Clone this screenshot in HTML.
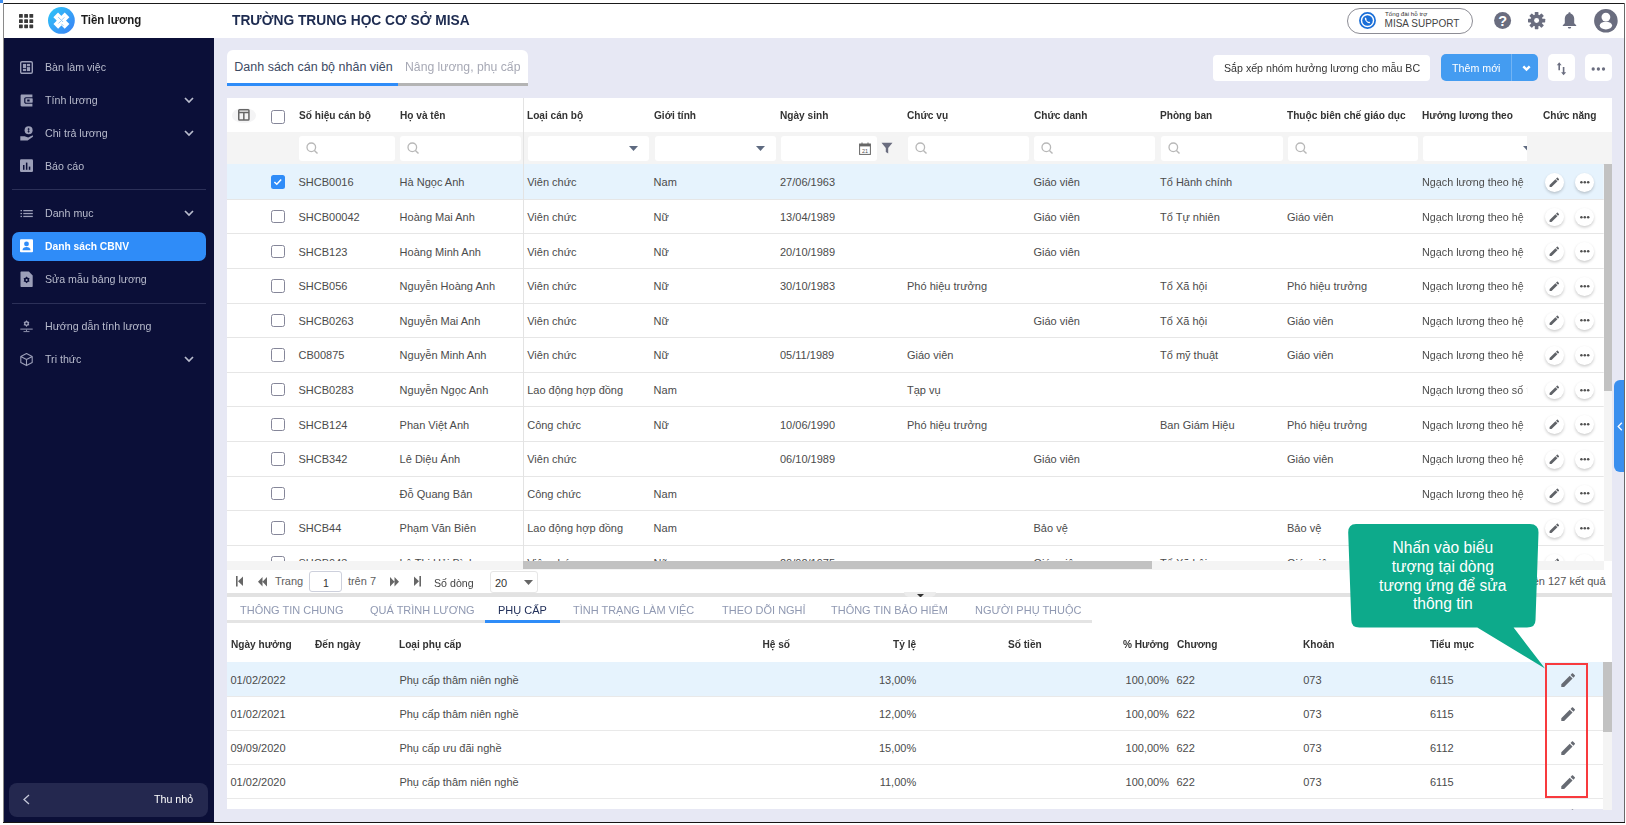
<!DOCTYPE html>
<html><head><meta charset="utf-8"><style>
*{box-sizing:border-box;margin:0;padding:0}
html,body{width:1626px;height:825px;overflow:hidden;background:#fff}
body{position:relative;font-family:"Liberation Sans",sans-serif}
div{position:absolute}
.t{white-space:nowrap}
svg{overflow:visible}
</style></head><body>
<div style="left:0px;top:0px;width:3px;height:3px;background:#3d8ef0"></div>
<div style="left:4px;top:4px;width:1620px;height:34px;background:#fff"></div>
<div style="left:4px;top:38px;width:210px;height:784px;background:#0b0f38"></div>
<div style="left:214px;top:38px;width:1410px;height:784px;background:#e7e8f4"></div>
<div style="left:3px;top:3px;width:1622px;height:1px;background:#1a1a1a"></div>
<div style="left:3px;top:3px;width:1px;height:820px;background:#8a8a8a"></div>
<div style="left:1624px;top:3px;width:1px;height:820px;background:#6a6a6a"></div>
<div style="left:3px;top:822px;width:1622px;height:1px;background:#151515"></div>
<svg style="position:absolute;left:19.3px;top:14px;" width="15" height="15" viewBox="0 0 15 15"><rect x="0.0" y="0.0" width="3.8" height="3.8" rx="0.6" fill="#3a3a3a"/><rect x="5.2" y="0.0" width="3.8" height="3.8" rx="0.6" fill="#3a3a3a"/><rect x="10.4" y="0.0" width="3.8" height="3.8" rx="0.6" fill="#3a3a3a"/><rect x="0.0" y="5.2" width="3.8" height="3.8" rx="0.6" fill="#3a3a3a"/><rect x="5.2" y="5.2" width="3.8" height="3.8" rx="0.6" fill="#3a3a3a"/><rect x="10.4" y="5.2" width="3.8" height="3.8" rx="0.6" fill="#3a3a3a"/><rect x="0.0" y="10.4" width="3.8" height="3.8" rx="0.6" fill="#3a3a3a"/><rect x="5.2" y="10.4" width="3.8" height="3.8" rx="0.6" fill="#3a3a3a"/><rect x="10.4" y="10.4" width="3.8" height="3.8" rx="0.6" fill="#3a3a3a"/></svg>
<svg style="position:absolute;left:48.2px;top:7.1px;" width="27" height="27" viewBox="0 0 27 27"><defs><linearGradient id="lg" x1="0" y1="0" x2="1" y2="1"><stop offset="0" stop-color="#2fc8f8"/><stop offset="1" stop-color="#3a7ef5"/></linearGradient></defs><circle cx="13.4" cy="13.4" r="13.4" fill="url(#lg)"/><g stroke="#fff" stroke-width="6.6" fill="none"><path d="M7.7 7.85 L13.5 13.65 L7.8 19.35"/><path d="M19.05 7.85 L13.3 13.6 L19.05 19.35"/></g><g stroke="#3c9ff5" stroke-width="0.7" fill="none" opacity="0.8"><path d="M10.2 10.1 L15.1 15"/><path d="M16.4 10.3 L13.8 12.9"/><path d="M10.4 16.5 L12.9 14"/><path d="M13.3 16.7 L15.5 18.9"/></g></svg>
<div class="t" style="left:80.5px;top:10.30px;line-height:20px;font-size:12.5px;color:#1c1c1c;font-weight:700;letter-spacing:0px;transform:scaleX(0.918);transform-origin:left center;">Tiền lương</div>
<div class="t" style="left:232px;top:10.30px;line-height:20px;font-size:15.2px;color:#1d2b50;font-weight:700;letter-spacing:0px;transform:scaleX(0.906);transform-origin:left center;">TRƯỜNG TRUNG HỌC CƠ SỞ MISA</div>
<div style="left:1347px;top:8px;width:126px;height:25.5px;border:1px solid #8d8d95;border-radius:13px;background:#fff"></div>
<svg style="position:absolute;left:1359px;top:12px;" width="17" height="17" viewBox="0 0 17 17"><circle cx="8.5" cy="8.5" r="7.6" fill="none" stroke="#1b6fd8" stroke-width="1.7"/><circle cx="8.5" cy="8.5" r="5.3" fill="#1b6fd8"/><path d="M6.2 5.6 C5.6 6.2 5.7 7.6 7.0 9.2 C8.4 10.9 10.0 11.6 10.9 10.9 L11.2 10.4 L10.0 9.5 L9.4 10.0 C8.6 9.6 7.6 8.6 7.3 7.8 L7.8 7.2 L7.0 5.9 Z" fill="#fff"/></svg>
<div class="t" style="left:1385px;top:9.90px;line-height:8px;font-size:6.2px;color:#333;font-weight:400;letter-spacing:0px;">Tổng đài hỗ trợ</div>
<div class="t" style="left:1384.6px;top:17.20px;line-height:14px;font-size:10px;color:#444;font-weight:400;letter-spacing:0px;">MISA SUPPORT</div>
<svg style="position:absolute;left:1494.4px;top:12px;" width="17.2" height="17.2" viewBox="0 0 17.2 17.2"><circle cx="8.6" cy="8.6" r="8.5" fill="#6a6d7f"/><text x="8.6" y="13.9" text-anchor="middle" font-family="Liberation Sans" font-weight="700" font-size="14.5" fill="#fff">?</text></svg>
<svg style="position:absolute;left:1527.9px;top:12px;" width="17.2" height="17.2" viewBox="0 0 18 18"><g fill="#6a6d7f" transform="translate(9,9)"><rect x="-1.9" y="-9" width="3.8" height="4.5" rx="0.6" transform="rotate(0)"/><rect x="-1.9" y="-9" width="3.8" height="4.5" rx="0.6" transform="rotate(45)"/><rect x="-1.9" y="-9" width="3.8" height="4.5" rx="0.6" transform="rotate(90)"/><rect x="-1.9" y="-9" width="3.8" height="4.5" rx="0.6" transform="rotate(135)"/><rect x="-1.9" y="-9" width="3.8" height="4.5" rx="0.6" transform="rotate(180)"/><rect x="-1.9" y="-9" width="3.8" height="4.5" rx="0.6" transform="rotate(225)"/><rect x="-1.9" y="-9" width="3.8" height="4.5" rx="0.6" transform="rotate(270)"/><rect x="-1.9" y="-9" width="3.8" height="4.5" rx="0.6" transform="rotate(315)"/><circle r="6.3"/><circle r="2.6" fill="#fff"/></g></svg>
<svg style="position:absolute;left:1562px;top:11px;" width="15" height="18" viewBox="0 0 15 18"><path d="M7.5 1.2 C8.2 1.2 8.6 1.7 8.6 2.4 C10.9 3.1 12.2 5.1 12.2 7.6 L12.2 12.2 L14.2 14.3 L14.2 15 L0.8 15 L0.8 14.3 L2.8 12.2 L2.8 7.6 C2.8 5.1 4.1 3.1 6.4 2.4 C6.4 1.7 6.8 1.2 7.5 1.2 Z" fill="#6a6d7f"/><path d="M5.9 16 L9.1 16 C9.1 16.9 8.4 17.6 7.5 17.6 C6.6 17.6 5.9 16.9 5.9 16 Z" fill="#6a6d7f"/></svg>
<svg style="position:absolute;left:1594.2px;top:9px;" width="23.8" height="23.6" viewBox="0 0 23.8 23.6"><circle cx="11.9" cy="11.8" r="11.8" fill="#6a6d7f"/><circle cx="11.9" cy="8.1" r="4.4" fill="#fff"/><ellipse cx="11.9" cy="16.6" rx="6.2" ry="3.9" fill="#fff"/></svg>
<svg style="position:absolute;left:19.5px;top:60.5px;" width="13" height="13" viewBox="0 0 13 13"><rect x="0.7" y="0.7" width="11.6" height="11.6" rx="1.3" fill="none" stroke="#9c9fb8" stroke-width="1.4"/><rect x="2.9" y="2.9" width="3.2" height="4.3" fill="#9c9fb8"/><rect x="6.9" y="2.9" width="3.2" height="2.4" fill="#9c9fb8"/><rect x="2.9" y="8" width="3.2" height="2.1" fill="#9c9fb8"/><rect x="6.9" y="6.1" width="3.2" height="4" fill="#9c9fb8"/></svg>
<div class="t" style="left:44.8px;top:57.00px;line-height:20px;font-size:11px;color:#b9bccd;font-weight:400;letter-spacing:0px;transform:scaleX(0.968);transform-origin:left center;">Bàn làm việc</div>
<svg style="position:absolute;left:19.5px;top:93.5px;" width="13" height="13" viewBox="0 0 13 13"><path d="M1.8 0.6 H12.4 V3.2 H6 C4.9 3.2 4.2 3.9 4.2 5 V8 C4.2 9.1 4.9 9.8 6 9.8 H12.4 V12.4 H1.8 C1.1 12.4 0.6 11.9 0.6 11.2 V1.8 C0.6 1.1 1.1 0.6 1.8 0.6 Z" fill="#9c9fb8"/><rect x="5.4" y="4.3" width="7.3" height="4.4" rx="0.6" fill="#9c9fb8"/><rect x="7.2" y="5.5" width="2.4" height="2" fill="#0b0f38"/></svg>
<div class="t" style="left:44.8px;top:90.00px;line-height:20px;font-size:11px;color:#b9bccd;font-weight:400;letter-spacing:0px;transform:scaleX(0.968);transform-origin:left center;">Tính lương</div>
<svg style="position:absolute;left:184px;top:97.4px;" width="10" height="6" viewBox="0 0 10 6"><path d="M1 1 L5 5 L9 1" fill="none" stroke="#b9bccd" stroke-width="1.7"/></svg>
<svg style="position:absolute;left:19.5px;top:126.5px;" width="13" height="13" viewBox="0 0 13 13"><circle cx="8.6" cy="3.3" r="4" fill="#9c9fb8"/><path d="M8.6 0.9 V5.7 M7.6 2.2 H9.6 M7.6 4.4 H9.6" stroke="#0b0f38" stroke-width="0.8"/><path d="M0.3 9.3 H4.6 L8.2 10.6 L12.8 8.3 L13 9.8 L7.6 13.4 H0.3 Z" fill="#9c9fb8"/></svg>
<div class="t" style="left:44.8px;top:123.00px;line-height:20px;font-size:11px;color:#b9bccd;font-weight:400;letter-spacing:0px;transform:scaleX(0.968);transform-origin:left center;">Chi trả lương</div>
<svg style="position:absolute;left:184px;top:130.4px;" width="10" height="6" viewBox="0 0 10 6"><path d="M1 1 L5 5 L9 1" fill="none" stroke="#b9bccd" stroke-width="1.7"/></svg>
<svg style="position:absolute;left:19.5px;top:159.0px;" width="13" height="13" viewBox="0 0 13 13"><rect x="0" y="0.3" width="13" height="12.6" rx="1.2" fill="#9c9fb8"/><rect x="3" y="6" width="1.5" height="4.8" fill="#0b0f38"/><rect x="5.9" y="3.6" width="1.5" height="7.2" fill="#0b0f38"/><rect x="8.8" y="7.6" width="1.5" height="3.2" fill="#0b0f38"/></svg>
<div class="t" style="left:44.8px;top:155.50px;line-height:20px;font-size:11px;color:#b9bccd;font-weight:400;letter-spacing:0px;transform:scaleX(0.968);transform-origin:left center;">Báo cáo</div>
<div style="left:12px;top:189px;width:194px;height:1px;background:#2c3058"></div>
<svg style="position:absolute;left:19.5px;top:206.5px;" width="13" height="13" viewBox="0 0 13 13"><rect x="0.5" y="3" width="1.5" height="1.3" fill="#9c9fb8"/><rect x="0.5" y="5.9" width="1.5" height="1.3" fill="#9c9fb8"/><rect x="0.5" y="8.8" width="1.5" height="1.3" fill="#9c9fb8"/><rect x="3.3" y="3" width="9.5" height="1.3" fill="#9c9fb8"/><rect x="3.3" y="5.9" width="9.5" height="1.3" fill="#9c9fb8"/><rect x="3.3" y="8.8" width="9.5" height="1.3" fill="#9c9fb8"/></svg>
<div class="t" style="left:44.8px;top:203.00px;line-height:20px;font-size:11px;color:#b9bccd;font-weight:400;letter-spacing:0px;transform:scaleX(0.968);transform-origin:left center;">Danh mục</div>
<svg style="position:absolute;left:184px;top:210.4px;" width="10" height="6" viewBox="0 0 10 6"><path d="M1 1 L5 5 L9 1" fill="none" stroke="#b9bccd" stroke-width="1.7"/></svg>
<div style="left:12px;top:232px;width:194px;height:29px;background:#2f8cf8;border-radius:7px"></div>
<svg style="position:absolute;left:19.5px;top:239.5px;" width="13" height="13" viewBox="0 0 13 13"><rect x="0" y="-0.7" width="13" height="13" rx="1" fill="#fff"/><circle cx="6.5" cy="3.9" r="2.4" fill="#2f8cf8"/><path d="M2.5 10.3 C2.5 7.9 4.4 7.1 6.5 7.1 C8.6 7.1 10.5 7.9 10.5 10.3 Z" fill="#2f8cf8"/></svg>
<div class="t" style="left:44.8px;top:236.00px;line-height:20px;font-size:11px;color:#fff;font-weight:700;letter-spacing:0px;transform:scaleX(0.935);transform-origin:left center;">Danh sách CBNV</div>
<svg style="position:absolute;left:19.5px;top:272.5px;" width="13" height="13" viewBox="0 0 13 13"><path d="M1.5 -1.4 H8.8 L12.7 2.6 V13 C12.7 13.6 12.3 14 11.7 14 H1.5 C0.9 14 0.5 13.6 0.5 13 V-0.4 C0.5 -1 0.9 -1.4 1.5 -1.4 Z" fill="#9c9fb8"/><polygon points="6.60,3.50 7.80,4.82 9.54,5.20 9.00,6.90 9.54,8.60 7.80,8.98 6.60,10.30 5.40,8.98 3.66,8.60 4.20,6.90 3.66,5.20 5.40,4.82" fill="#0b0f38"/><circle cx="6.6" cy="6.9" r="1" fill="#9c9fb8"/></svg>
<div class="t" style="left:44.8px;top:269.00px;line-height:20px;font-size:11px;color:#b9bccd;font-weight:400;letter-spacing:0px;transform:scaleX(0.968);transform-origin:left center;">Sửa mẫu bảng lương</div>
<div style="left:12px;top:303px;width:194px;height:1px;background:#2c3058"></div>
<svg style="position:absolute;left:19.5px;top:319.5px;" width="13" height="13" viewBox="0 0 13 13"><polygon points="6.50,0.30 7.65,1.61 9.36,1.95 8.80,3.60 9.36,5.25 7.65,5.59 6.50,6.90 5.35,5.59 3.64,5.25 4.20,3.60 3.64,1.95 5.35,1.61" fill="#9c9fb8"/><circle cx="6.5" cy="3.6" r="1.1" fill="#0b0f38"/><rect x="0.3" y="8.6" width="12.4" height="1" fill="#9c9fb8"/><path d="M6.5 9.6 V11.2 M3.5 11.6 H9.5" stroke="#9c9fb8" stroke-width="0.9"/></svg>
<div class="t" style="left:44.8px;top:316.00px;line-height:20px;font-size:11px;color:#b9bccd;font-weight:400;letter-spacing:0px;transform:scaleX(0.968);transform-origin:left center;">Hướng dẫn tính lương</div>
<svg style="position:absolute;left:19.5px;top:352.5px;" width="13" height="13" viewBox="0 0 13 13"><path d="M6.5 0.6 L12.2 3.6 V9.6 L6.5 12.6 L0.8 9.6 V3.6 Z M0.8 3.6 L6.5 6.6 L12.2 3.6 M6.5 6.6 V12.6" fill="none" stroke="#9c9fb8" stroke-width="1.1" stroke-linejoin="round"/></svg>
<div class="t" style="left:44.8px;top:349.00px;line-height:20px;font-size:11px;color:#b9bccd;font-weight:400;letter-spacing:0px;transform:scaleX(0.968);transform-origin:left center;">Tri thức</div>
<svg style="position:absolute;left:184px;top:356.4px;" width="10" height="6" viewBox="0 0 10 6"><path d="M1 1 L5 5 L9 1" fill="none" stroke="#b9bccd" stroke-width="1.7"/></svg>
<div style="left:9px;top:782.5px;width:199px;height:34px;background:#24284f;border-radius:8px"></div>
<svg style="position:absolute;left:22px;top:794px;" width="9" height="11" viewBox="0 0 9 11"><path d="M7 1 L2 5.5 L7 10" fill="none" stroke="#c4c7d8" stroke-width="1.3"/></svg>
<div class="t" style="right:1432.5px;top:789.30px;line-height:20px;font-size:11.5px;color:#fff;font-weight:400;letter-spacing:0px;text-align:right;transform:scaleX(0.93);transform-origin:right center;">Thu nhỏ</div>
<div style="left:227px;top:50px;width:301px;height:36px;background:#fff;border-radius:6px 6px 0 0"></div>
<div style="left:227px;top:83px;width:171px;height:3px;background:#2f8cf8"></div>
<div style="left:398px;top:83px;width:130px;height:3px;background:#b4b4b4"></div>
<div class="t" style="left:234.3px;top:56.50px;line-height:20px;font-size:12.5px;color:#3d4a63;font-weight:400;letter-spacing:0px;">Danh sách cán bộ nhân viên</div>
<div class="t" style="left:405.3px;top:56.50px;line-height:20px;font-size:12.5px;color:#a7a9b5;font-weight:400;letter-spacing:0px;transform:scaleX(0.978);transform-origin:left center;">Nâng lương, phụ cấp</div>
<div style="left:1212.8px;top:54.7px;width:217.4px;height:26.3px;background:#fff;border-radius:4px"></div>
<div class="t" style="left:1223.5px;top:58.00px;line-height:20px;font-size:11px;color:#333;font-weight:400;letter-spacing:0px;transform:scaleX(0.967);transform-origin:left center;">Sắp xếp nhóm hưởng lương cho mẫu BC</div>
<div style="left:1440.7px;top:54.4px;width:97.5px;height:27px;background:#449cf1;border-radius:5px"></div>
<div style="left:1511px;top:54.4px;width:1px;height:27px;background:#72b4f4"></div>
<div class="t" style="left:1452.2px;top:58.00px;line-height:20px;font-size:11px;color:#fff;font-weight:400;letter-spacing:0px;transform:scaleX(0.97);transform-origin:left center;">Thêm mới</div>
<svg style="position:absolute;left:1521.5px;top:65.2px;" width="9" height="7" viewBox="0 0 9 7"><path d="M1.3 1.3 L4.5 4.5 L7.7 1.3" fill="none" stroke="#fff" stroke-width="2.4"/></svg>
<div style="left:1547.8px;top:54.4px;width:27px;height:27px;background:#fff;border-radius:5px"></div>
<svg style="position:absolute;left:1556px;top:62px;" width="11" height="14" viewBox="0 0 11 14"><path d="M3.2 2 V8.2" stroke="#6a6d7f" stroke-width="1.6"/><path d="M0.8 3.2 L3.2 0.3 L5.6 3.2 Z" fill="#6a6d7f"/><path d="M7.6 5 V11.5" stroke="#6a6d7f" stroke-width="1.6"/><path d="M5.1 10.2 L7.6 13.3 L10.1 10.2 Z" fill="#6a6d7f"/></svg>
<div style="left:1585px;top:54.4px;width:27px;height:27px;background:#fff;border-radius:5px"></div>
<svg style="position:absolute;left:1591px;top:66.8px;" width="15" height="4" viewBox="0 0 15 4"><circle cx="2.2" cy="2" r="1.65" fill="#6a6d7f"/><circle cx="7.4" cy="2" r="1.65" fill="#6a6d7f"/><circle cx="12.5" cy="2" r="1.65" fill="#6a6d7f"/></svg>
<div style="left:227px;top:98px;width:1385px;height:472px;background:#fff"></div>
<div style="left:227px;top:132px;width:1385px;height:32.4px;background:#f4f4f4"></div>
<div style="left:227px;top:163.6px;width:1385px;height:1px;background:#e8e8e8"></div>
<div class="t" style="left:298.5px;top:105.00px;line-height:20px;font-size:11px;color:#333333;font-weight:700;letter-spacing:0px;transform:scaleX(0.92);transform-origin:left center;">Số hiệu cán bộ</div>
<div class="t" style="left:399.6px;top:105.00px;line-height:20px;font-size:11px;color:#333333;font-weight:700;letter-spacing:0px;transform:scaleX(0.92);transform-origin:left center;">Họ và tên</div>
<div class="t" style="left:527.2px;top:105.00px;line-height:20px;font-size:11px;color:#333333;font-weight:700;letter-spacing:0px;transform:scaleX(0.92);transform-origin:left center;">Loại cán bộ</div>
<div class="t" style="left:653.6px;top:105.00px;line-height:20px;font-size:11px;color:#333333;font-weight:700;letter-spacing:0px;transform:scaleX(0.92);transform-origin:left center;">Giới tính</div>
<div class="t" style="left:780px;top:105.00px;line-height:20px;font-size:11px;color:#333333;font-weight:700;letter-spacing:0px;transform:scaleX(0.92);transform-origin:left center;">Ngày sinh</div>
<div class="t" style="left:907px;top:105.00px;line-height:20px;font-size:11px;color:#333333;font-weight:700;letter-spacing:0px;transform:scaleX(0.92);transform-origin:left center;">Chức vụ</div>
<div class="t" style="left:1033.5px;top:105.00px;line-height:20px;font-size:11px;color:#333333;font-weight:700;letter-spacing:0px;transform:scaleX(0.92);transform-origin:left center;">Chức danh</div>
<div class="t" style="left:1160px;top:105.00px;line-height:20px;font-size:11px;color:#333333;font-weight:700;letter-spacing:0px;transform:scaleX(0.92);transform-origin:left center;">Phòng ban</div>
<div class="t" style="left:1287px;top:105.00px;line-height:20px;font-size:11px;color:#333333;font-weight:700;letter-spacing:0px;transform:scaleX(0.92);transform-origin:left center;">Thuộc biên chế giáo dục</div>
<div class="t" style="left:1422px;top:105.00px;line-height:20px;font-size:11px;color:#333333;font-weight:700;letter-spacing:0px;transform:scaleX(0.92);transform-origin:left center;">Hưởng lương theo</div>
<div class="t" style="left:1543.4px;top:105.00px;line-height:20px;font-size:11px;color:#333333;font-weight:700;letter-spacing:0px;transform:scaleX(0.92);transform-origin:left center;">Chức năng</div>
<div style="left:232.3px;top:107.5px;width:23.5px;height:15.4px;background:#f4f4f5;border-radius:50%"></div>
<svg style="position:absolute;left:238.1px;top:109.2px;" width="11.7" height="11.8" viewBox="0 0 11.7 11.8"><rect x="0.75" y="0.75" width="10.2" height="10.3" rx="0.8" fill="none" stroke="#666" stroke-width="1.5"/><path d="M0.8 3.6 H11 M5.85 3.6 V11" stroke="#666" stroke-width="1.5"/></svg>
<div style="left:271px;top:110.3px;width:13.6px;height:13.6px;border:1.7px solid #858699;border-radius:2.5px;background:#fff"></div>
<div style="left:299px;top:135.7px;width:96px;height:25.5px;background:#fff;border-radius:3px"></div>
<svg style="position:absolute;left:306px;top:142px;" width="12" height="12" viewBox="0 0 12 12"><circle cx="5.3" cy="5.3" r="4.3" fill="none" stroke="#b8b8b8" stroke-width="1.3"/><path d="M8.4 8.4 L11.5 11.5" stroke="#b8b8b8" stroke-width="1.4"/></svg>
<div style="left:400px;top:135.7px;width:121px;height:25.5px;background:#fff;border-radius:3px"></div>
<svg style="position:absolute;left:407px;top:142px;" width="12" height="12" viewBox="0 0 12 12"><circle cx="5.3" cy="5.3" r="4.3" fill="none" stroke="#b8b8b8" stroke-width="1.3"/><path d="M8.4 8.4 L11.5 11.5" stroke="#b8b8b8" stroke-width="1.4"/></svg>
<div style="left:528px;top:135.7px;width:121px;height:25.5px;background:#fff;border-radius:3px"></div>
<svg style="position:absolute;left:629px;top:146px;" width="9" height="5" viewBox="0 0 9 5"><path d="M0 0 H9 L4.5 5 Z" fill="#5e6a80"/></svg>
<div style="left:654.5px;top:135.7px;width:121.10000000000002px;height:25.5px;background:#fff;border-radius:3px"></div>
<svg style="position:absolute;left:755.6px;top:146px;" width="9" height="5" viewBox="0 0 9 5"><path d="M0 0 H9 L4.5 5 Z" fill="#5e6a80"/></svg>
<div style="left:781px;top:135.7px;width:96.20000000000005px;height:25.5px;background:#fff;border-radius:3px"></div>
<svg style="position:absolute;left:858.5px;top:141.5px;" width="12" height="13" viewBox="0 0 12 13"><rect x="0.6" y="2" width="10.8" height="10.4" fill="none" stroke="#666" stroke-width="1"/><rect x="0.6" y="2" width="10.8" height="2.4" fill="#666"/><path d="M3 0.5 V3 M9 0.5 V3" stroke="#666" stroke-width="1"/><text x="6" y="10.8" text-anchor="middle" font-size="5.5" font-family="Liberation Sans" fill="#555">21</text></svg>
<svg style="position:absolute;left:880.5px;top:142px;" width="12" height="12" viewBox="0 0 12 12"><path d="M0.5 0.8 H11.5 L7.2 6 V11.5 L4.8 10 V6 Z" fill="#6a6d7f"/></svg>
<div style="left:907.6px;top:135.7px;width:121.19999999999993px;height:25.5px;background:#fff;border-radius:3px"></div>
<svg style="position:absolute;left:914.6px;top:142px;" width="12" height="12" viewBox="0 0 12 12"><circle cx="5.3" cy="5.3" r="4.3" fill="none" stroke="#b8b8b8" stroke-width="1.3"/><path d="M8.4 8.4 L11.5 11.5" stroke="#b8b8b8" stroke-width="1.4"/></svg>
<div style="left:1034.2px;top:135.7px;width:121.09999999999991px;height:25.5px;background:#fff;border-radius:3px"></div>
<svg style="position:absolute;left:1041.2px;top:142px;" width="12" height="12" viewBox="0 0 12 12"><circle cx="5.3" cy="5.3" r="4.3" fill="none" stroke="#b8b8b8" stroke-width="1.3"/><path d="M8.4 8.4 L11.5 11.5" stroke="#b8b8b8" stroke-width="1.4"/></svg>
<div style="left:1161px;top:135.7px;width:121.5px;height:25.5px;background:#fff;border-radius:3px"></div>
<svg style="position:absolute;left:1168px;top:142px;" width="12" height="12" viewBox="0 0 12 12"><circle cx="5.3" cy="5.3" r="4.3" fill="none" stroke="#b8b8b8" stroke-width="1.3"/><path d="M8.4 8.4 L11.5 11.5" stroke="#b8b8b8" stroke-width="1.4"/></svg>
<div style="left:1287.7px;top:135.7px;width:130.0px;height:25.5px;background:#fff;border-radius:3px"></div>
<svg style="position:absolute;left:1294.7px;top:142px;" width="12" height="12" viewBox="0 0 12 12"><circle cx="5.3" cy="5.3" r="4.3" fill="none" stroke="#b8b8b8" stroke-width="1.3"/><path d="M8.4 8.4 L11.5 11.5" stroke="#b8b8b8" stroke-width="1.4"/></svg>
<div style="left:1423px;top:135.7px;width:104.3px;height:25.5px;background:#fff;border-radius:3px 0 0 3px"></div>
<svg style="position:absolute;left:1522.5px;top:146px;" width="9" height="5" viewBox="0 0 9 5"><path d="M0 0 H9 L4.5 5 Z" fill="#5e6a80"/></svg>
<div style="left:1527.3px;top:132px;width:76.4px;height:31.6px;background:#f4f4f4"></div>
<div style="left:0;top:0;width:1626px;height:825px;clip-path:inset(164px 22.299999999999955px 264px 227px)">
<div style="left:227px;top:164.4px;width:1377px;height:34.6px;background:#e6f3fd"></div>
<div style="left:227px;top:198.7px;width:1377px;height:1px;background:#e6e6e6"></div>
<div style="left:271px;top:175.3px;width:13.7px;height:13.7px;background:#2f8cf8;border-radius:2.5px"></div>
<svg style="position:absolute;left:271px;top:175.3px;" width="13.7" height="13.7" viewBox="0 0 13.7 13.7"><path d="M3.4 7 L5.8 9.3 L10.2 4.6" fill="none" stroke="#fff" stroke-width="1.5"/></svg>
<div class="t" style="left:298.5px;top:172.30px;line-height:20px;font-size:11px;color:#4b4b4b;font-weight:400;letter-spacing:0px;white-space:nowrap">SHCB0016</div>
<div class="t" style="left:399.6px;top:172.30px;line-height:20px;font-size:11px;color:#4b4b4b;font-weight:400;letter-spacing:0px;white-space:nowrap">Hà Ngọc Anh</div>
<div class="t" style="left:527.2px;top:172.30px;line-height:20px;font-size:11px;color:#4b4b4b;font-weight:400;letter-spacing:0px;white-space:nowrap">Viên chức</div>
<div class="t" style="left:653.6px;top:172.30px;line-height:20px;font-size:11px;color:#4b4b4b;font-weight:400;letter-spacing:0px;white-space:nowrap">Nam</div>
<div class="t" style="left:780px;top:172.30px;line-height:20px;font-size:11px;color:#4b4b4b;font-weight:400;letter-spacing:0px;white-space:nowrap">27/06/1963</div>
<div class="t" style="left:1033.5px;top:172.30px;line-height:20px;font-size:11px;color:#4b4b4b;font-weight:400;letter-spacing:0px;white-space:nowrap">Giáo viên</div>
<div class="t" style="left:1160px;top:172.30px;line-height:20px;font-size:11px;color:#4b4b4b;font-weight:400;letter-spacing:0px;white-space:nowrap">Tổ Hành chính</div>
<div class="t" style="left:1422px;top:172.30px;line-height:20px;font-size:11px;color:#4b4b4b;font-weight:400;letter-spacing:0px;transform:scaleX(0.98);transform-origin:left center;white-space:nowrap;width:108px;overflow:hidden;-webkit-mask-image:linear-gradient(to right,#000 94%,transparent 100%);mask-image:linear-gradient(to right,#000 94%,transparent 100%)">Ngạch lương theo hệ số</div>
<div style="left:1544.8px;top:173.10000000000002px;width:18.8px;height:18.8px;background:#fff;border-radius:50%;box-shadow:0 1.5px 3px rgba(0,0,0,.2)"></div>
<svg style="position:absolute;left:1548.1px;top:175.9px;" width="12.7" height="12.7" viewBox="0 0 24 24"><path d="M3 17.25V21h3.75L17.81 9.94l-3.75-3.75L3 17.25zM20.71 7.04c.39-.39.39-1.02 0-1.41l-2.34-2.34c-.39-.39-1.02-.39-1.41 0l-1.83 1.83 3.75 3.75 1.83-1.83z" fill="#606368"/></svg>
<div style="left:1575.2px;top:173.10000000000002px;width:18.8px;height:18.8px;background:#fff;border-radius:50%;box-shadow:0 1.5px 3px rgba(0,0,0,.2)"></div>
<svg style="position:absolute;left:1580px;top:181.0px;" width="9" height="2.6" viewBox="0 0 9 2.6"><circle cx="1.4" cy="1.3" r="1.25" fill="#505050"/><circle cx="4.8" cy="1.3" r="1.25" fill="#505050"/><circle cx="8.2" cy="1.3" r="1.25" fill="#505050"/></svg>
<div style="left:227px;top:233.29999999999998px;width:1377px;height:1px;background:#e6e6e6"></div>
<div style="left:271px;top:209.9px;width:13.6px;height:13.6px;border:1.7px solid #858699;border-radius:2.5px;background:#fff"></div>
<div class="t" style="left:298.5px;top:206.90px;line-height:20px;font-size:11px;color:#4b4b4b;font-weight:400;letter-spacing:0px;white-space:nowrap">SHCB00042</div>
<div class="t" style="left:399.6px;top:206.90px;line-height:20px;font-size:11px;color:#4b4b4b;font-weight:400;letter-spacing:0px;white-space:nowrap">Hoàng Mai Anh</div>
<div class="t" style="left:527.2px;top:206.90px;line-height:20px;font-size:11px;color:#4b4b4b;font-weight:400;letter-spacing:0px;white-space:nowrap">Viên chức</div>
<div class="t" style="left:653.6px;top:206.90px;line-height:20px;font-size:11px;color:#4b4b4b;font-weight:400;letter-spacing:0px;white-space:nowrap">Nữ</div>
<div class="t" style="left:780px;top:206.90px;line-height:20px;font-size:11px;color:#4b4b4b;font-weight:400;letter-spacing:0px;white-space:nowrap">13/04/1989</div>
<div class="t" style="left:1033.5px;top:206.90px;line-height:20px;font-size:11px;color:#4b4b4b;font-weight:400;letter-spacing:0px;white-space:nowrap">Giáo viên</div>
<div class="t" style="left:1160px;top:206.90px;line-height:20px;font-size:11px;color:#4b4b4b;font-weight:400;letter-spacing:0px;white-space:nowrap">Tổ Tự nhiên</div>
<div class="t" style="left:1287px;top:206.90px;line-height:20px;font-size:11px;color:#4b4b4b;font-weight:400;letter-spacing:0px;white-space:nowrap">Giáo viên</div>
<div class="t" style="left:1422px;top:206.90px;line-height:20px;font-size:11px;color:#4b4b4b;font-weight:400;letter-spacing:0px;transform:scaleX(0.98);transform-origin:left center;white-space:nowrap;width:108px;overflow:hidden;-webkit-mask-image:linear-gradient(to right,#000 94%,transparent 100%);mask-image:linear-gradient(to right,#000 94%,transparent 100%)">Ngạch lương theo hệ số</div>
<div style="left:1544.8px;top:207.70000000000002px;width:18.8px;height:18.8px;background:#fff;border-radius:50%;box-shadow:0 1.5px 3px rgba(0,0,0,.2)"></div>
<svg style="position:absolute;left:1548.1px;top:210.5px;" width="12.7" height="12.7" viewBox="0 0 24 24"><path d="M3 17.25V21h3.75L17.81 9.94l-3.75-3.75L3 17.25zM20.71 7.04c.39-.39.39-1.02 0-1.41l-2.34-2.34c-.39-.39-1.02-.39-1.41 0l-1.83 1.83 3.75 3.75 1.83-1.83z" fill="#606368"/></svg>
<div style="left:1575.2px;top:207.70000000000002px;width:18.8px;height:18.8px;background:#fff;border-radius:50%;box-shadow:0 1.5px 3px rgba(0,0,0,.2)"></div>
<svg style="position:absolute;left:1580px;top:215.6px;" width="9" height="2.6" viewBox="0 0 9 2.6"><circle cx="1.4" cy="1.3" r="1.25" fill="#505050"/><circle cx="4.8" cy="1.3" r="1.25" fill="#505050"/><circle cx="8.2" cy="1.3" r="1.25" fill="#505050"/></svg>
<div style="left:227px;top:267.90000000000003px;width:1377px;height:1px;background:#e6e6e6"></div>
<div style="left:271px;top:244.50000000000003px;width:13.6px;height:13.6px;border:1.7px solid #858699;border-radius:2.5px;background:#fff"></div>
<div class="t" style="left:298.5px;top:241.50px;line-height:20px;font-size:11px;color:#4b4b4b;font-weight:400;letter-spacing:0px;white-space:nowrap">SHCB123</div>
<div class="t" style="left:399.6px;top:241.50px;line-height:20px;font-size:11px;color:#4b4b4b;font-weight:400;letter-spacing:0px;white-space:nowrap">Hoàng Minh Anh</div>
<div class="t" style="left:527.2px;top:241.50px;line-height:20px;font-size:11px;color:#4b4b4b;font-weight:400;letter-spacing:0px;white-space:nowrap">Viên chức</div>
<div class="t" style="left:653.6px;top:241.50px;line-height:20px;font-size:11px;color:#4b4b4b;font-weight:400;letter-spacing:0px;white-space:nowrap">Nữ</div>
<div class="t" style="left:780px;top:241.50px;line-height:20px;font-size:11px;color:#4b4b4b;font-weight:400;letter-spacing:0px;white-space:nowrap">20/10/1989</div>
<div class="t" style="left:1033.5px;top:241.50px;line-height:20px;font-size:11px;color:#4b4b4b;font-weight:400;letter-spacing:0px;white-space:nowrap">Giáo viên</div>
<div class="t" style="left:1422px;top:241.50px;line-height:20px;font-size:11px;color:#4b4b4b;font-weight:400;letter-spacing:0px;transform:scaleX(0.98);transform-origin:left center;white-space:nowrap;width:108px;overflow:hidden;-webkit-mask-image:linear-gradient(to right,#000 94%,transparent 100%);mask-image:linear-gradient(to right,#000 94%,transparent 100%)">Ngạch lương theo hệ số</div>
<div style="left:1544.8px;top:242.30000000000004px;width:18.8px;height:18.8px;background:#fff;border-radius:50%;box-shadow:0 1.5px 3px rgba(0,0,0,.2)"></div>
<svg style="position:absolute;left:1548.1px;top:245.10000000000002px;" width="12.7" height="12.7" viewBox="0 0 24 24"><path d="M3 17.25V21h3.75L17.81 9.94l-3.75-3.75L3 17.25zM20.71 7.04c.39-.39.39-1.02 0-1.41l-2.34-2.34c-.39-.39-1.02-.39-1.41 0l-1.83 1.83 3.75 3.75 1.83-1.83z" fill="#606368"/></svg>
<div style="left:1575.2px;top:242.30000000000004px;width:18.8px;height:18.8px;background:#fff;border-radius:50%;box-shadow:0 1.5px 3px rgba(0,0,0,.2)"></div>
<svg style="position:absolute;left:1580px;top:250.20000000000002px;" width="9" height="2.6" viewBox="0 0 9 2.6"><circle cx="1.4" cy="1.3" r="1.25" fill="#505050"/><circle cx="4.8" cy="1.3" r="1.25" fill="#505050"/><circle cx="8.2" cy="1.3" r="1.25" fill="#505050"/></svg>
<div style="left:227px;top:302.50000000000006px;width:1377px;height:1px;background:#e6e6e6"></div>
<div style="left:271px;top:279.1000000000001px;width:13.6px;height:13.6px;border:1.7px solid #858699;border-radius:2.5px;background:#fff"></div>
<div class="t" style="left:298.5px;top:276.10px;line-height:20px;font-size:11px;color:#4b4b4b;font-weight:400;letter-spacing:0px;white-space:nowrap">SHCB056</div>
<div class="t" style="left:399.6px;top:276.10px;line-height:20px;font-size:11px;color:#4b4b4b;font-weight:400;letter-spacing:0px;white-space:nowrap">Nguyễn Hoàng Anh</div>
<div class="t" style="left:527.2px;top:276.10px;line-height:20px;font-size:11px;color:#4b4b4b;font-weight:400;letter-spacing:0px;white-space:nowrap">Viên chức</div>
<div class="t" style="left:653.6px;top:276.10px;line-height:20px;font-size:11px;color:#4b4b4b;font-weight:400;letter-spacing:0px;white-space:nowrap">Nữ</div>
<div class="t" style="left:780px;top:276.10px;line-height:20px;font-size:11px;color:#4b4b4b;font-weight:400;letter-spacing:0px;white-space:nowrap">30/10/1983</div>
<div class="t" style="left:907px;top:276.10px;line-height:20px;font-size:11px;color:#4b4b4b;font-weight:400;letter-spacing:0px;white-space:nowrap">Phó hiệu trưởng</div>
<div class="t" style="left:1160px;top:276.10px;line-height:20px;font-size:11px;color:#4b4b4b;font-weight:400;letter-spacing:0px;white-space:nowrap">Tổ Xã hội</div>
<div class="t" style="left:1287px;top:276.10px;line-height:20px;font-size:11px;color:#4b4b4b;font-weight:400;letter-spacing:0px;white-space:nowrap">Phó hiệu trưởng</div>
<div class="t" style="left:1422px;top:276.10px;line-height:20px;font-size:11px;color:#4b4b4b;font-weight:400;letter-spacing:0px;transform:scaleX(0.98);transform-origin:left center;white-space:nowrap;width:108px;overflow:hidden;-webkit-mask-image:linear-gradient(to right,#000 94%,transparent 100%);mask-image:linear-gradient(to right,#000 94%,transparent 100%)">Ngạch lương theo hệ số</div>
<div style="left:1544.8px;top:276.9000000000001px;width:18.8px;height:18.8px;background:#fff;border-radius:50%;box-shadow:0 1.5px 3px rgba(0,0,0,.2)"></div>
<svg style="position:absolute;left:1548.1px;top:279.7000000000001px;" width="12.7" height="12.7" viewBox="0 0 24 24"><path d="M3 17.25V21h3.75L17.81 9.94l-3.75-3.75L3 17.25zM20.71 7.04c.39-.39.39-1.02 0-1.41l-2.34-2.34c-.39-.39-1.02-.39-1.41 0l-1.83 1.83 3.75 3.75 1.83-1.83z" fill="#606368"/></svg>
<div style="left:1575.2px;top:276.9000000000001px;width:18.8px;height:18.8px;background:#fff;border-radius:50%;box-shadow:0 1.5px 3px rgba(0,0,0,.2)"></div>
<svg style="position:absolute;left:1580px;top:284.80000000000007px;" width="9" height="2.6" viewBox="0 0 9 2.6"><circle cx="1.4" cy="1.3" r="1.25" fill="#505050"/><circle cx="4.8" cy="1.3" r="1.25" fill="#505050"/><circle cx="8.2" cy="1.3" r="1.25" fill="#505050"/></svg>
<div style="left:227px;top:337.1px;width:1377px;height:1px;background:#e6e6e6"></div>
<div style="left:271px;top:313.70000000000005px;width:13.6px;height:13.6px;border:1.7px solid #858699;border-radius:2.5px;background:#fff"></div>
<div class="t" style="left:298.5px;top:310.70px;line-height:20px;font-size:11px;color:#4b4b4b;font-weight:400;letter-spacing:0px;white-space:nowrap">SHCB0263</div>
<div class="t" style="left:399.6px;top:310.70px;line-height:20px;font-size:11px;color:#4b4b4b;font-weight:400;letter-spacing:0px;white-space:nowrap">Nguyễn Mai Anh</div>
<div class="t" style="left:527.2px;top:310.70px;line-height:20px;font-size:11px;color:#4b4b4b;font-weight:400;letter-spacing:0px;white-space:nowrap">Viên chức</div>
<div class="t" style="left:653.6px;top:310.70px;line-height:20px;font-size:11px;color:#4b4b4b;font-weight:400;letter-spacing:0px;white-space:nowrap">Nữ</div>
<div class="t" style="left:1033.5px;top:310.70px;line-height:20px;font-size:11px;color:#4b4b4b;font-weight:400;letter-spacing:0px;white-space:nowrap">Giáo viên</div>
<div class="t" style="left:1160px;top:310.70px;line-height:20px;font-size:11px;color:#4b4b4b;font-weight:400;letter-spacing:0px;white-space:nowrap">Tổ Xã hội</div>
<div class="t" style="left:1287px;top:310.70px;line-height:20px;font-size:11px;color:#4b4b4b;font-weight:400;letter-spacing:0px;white-space:nowrap">Giáo viên</div>
<div class="t" style="left:1422px;top:310.70px;line-height:20px;font-size:11px;color:#4b4b4b;font-weight:400;letter-spacing:0px;transform:scaleX(0.98);transform-origin:left center;white-space:nowrap;width:108px;overflow:hidden;-webkit-mask-image:linear-gradient(to right,#000 94%,transparent 100%);mask-image:linear-gradient(to right,#000 94%,transparent 100%)">Ngạch lương theo hệ số</div>
<div style="left:1544.8px;top:311.50000000000006px;width:18.8px;height:18.8px;background:#fff;border-radius:50%;box-shadow:0 1.5px 3px rgba(0,0,0,.2)"></div>
<svg style="position:absolute;left:1548.1px;top:314.30000000000007px;" width="12.7" height="12.7" viewBox="0 0 24 24"><path d="M3 17.25V21h3.75L17.81 9.94l-3.75-3.75L3 17.25zM20.71 7.04c.39-.39.39-1.02 0-1.41l-2.34-2.34c-.39-.39-1.02-.39-1.41 0l-1.83 1.83 3.75 3.75 1.83-1.83z" fill="#606368"/></svg>
<div style="left:1575.2px;top:311.50000000000006px;width:18.8px;height:18.8px;background:#fff;border-radius:50%;box-shadow:0 1.5px 3px rgba(0,0,0,.2)"></div>
<svg style="position:absolute;left:1580px;top:319.40000000000003px;" width="9" height="2.6" viewBox="0 0 9 2.6"><circle cx="1.4" cy="1.3" r="1.25" fill="#505050"/><circle cx="4.8" cy="1.3" r="1.25" fill="#505050"/><circle cx="8.2" cy="1.3" r="1.25" fill="#505050"/></svg>
<div style="left:227px;top:371.7px;width:1377px;height:1px;background:#e6e6e6"></div>
<div style="left:271px;top:348.3px;width:13.6px;height:13.6px;border:1.7px solid #858699;border-radius:2.5px;background:#fff"></div>
<div class="t" style="left:298.5px;top:345.30px;line-height:20px;font-size:11px;color:#4b4b4b;font-weight:400;letter-spacing:0px;white-space:nowrap">CB00875</div>
<div class="t" style="left:399.6px;top:345.30px;line-height:20px;font-size:11px;color:#4b4b4b;font-weight:400;letter-spacing:0px;white-space:nowrap">Nguyễn Minh Anh</div>
<div class="t" style="left:527.2px;top:345.30px;line-height:20px;font-size:11px;color:#4b4b4b;font-weight:400;letter-spacing:0px;white-space:nowrap">Viên chức</div>
<div class="t" style="left:653.6px;top:345.30px;line-height:20px;font-size:11px;color:#4b4b4b;font-weight:400;letter-spacing:0px;white-space:nowrap">Nữ</div>
<div class="t" style="left:780px;top:345.30px;line-height:20px;font-size:11px;color:#4b4b4b;font-weight:400;letter-spacing:0px;white-space:nowrap">05/11/1989</div>
<div class="t" style="left:907px;top:345.30px;line-height:20px;font-size:11px;color:#4b4b4b;font-weight:400;letter-spacing:0px;white-space:nowrap">Giáo viên</div>
<div class="t" style="left:1160px;top:345.30px;line-height:20px;font-size:11px;color:#4b4b4b;font-weight:400;letter-spacing:0px;white-space:nowrap">Tổ mỹ thuật</div>
<div class="t" style="left:1287px;top:345.30px;line-height:20px;font-size:11px;color:#4b4b4b;font-weight:400;letter-spacing:0px;white-space:nowrap">Giáo viên</div>
<div class="t" style="left:1422px;top:345.30px;line-height:20px;font-size:11px;color:#4b4b4b;font-weight:400;letter-spacing:0px;transform:scaleX(0.98);transform-origin:left center;white-space:nowrap;width:108px;overflow:hidden;-webkit-mask-image:linear-gradient(to right,#000 94%,transparent 100%);mask-image:linear-gradient(to right,#000 94%,transparent 100%)">Ngạch lương theo hệ số</div>
<div style="left:1544.8px;top:346.1px;width:18.8px;height:18.8px;background:#fff;border-radius:50%;box-shadow:0 1.5px 3px rgba(0,0,0,.2)"></div>
<svg style="position:absolute;left:1548.1px;top:348.90000000000003px;" width="12.7" height="12.7" viewBox="0 0 24 24"><path d="M3 17.25V21h3.75L17.81 9.94l-3.75-3.75L3 17.25zM20.71 7.04c.39-.39.39-1.02 0-1.41l-2.34-2.34c-.39-.39-1.02-.39-1.41 0l-1.83 1.83 3.75 3.75 1.83-1.83z" fill="#606368"/></svg>
<div style="left:1575.2px;top:346.1px;width:18.8px;height:18.8px;background:#fff;border-radius:50%;box-shadow:0 1.5px 3px rgba(0,0,0,.2)"></div>
<svg style="position:absolute;left:1580px;top:354.0px;" width="9" height="2.6" viewBox="0 0 9 2.6"><circle cx="1.4" cy="1.3" r="1.25" fill="#505050"/><circle cx="4.8" cy="1.3" r="1.25" fill="#505050"/><circle cx="8.2" cy="1.3" r="1.25" fill="#505050"/></svg>
<div style="left:227px;top:406.3px;width:1377px;height:1px;background:#e6e6e6"></div>
<div style="left:271px;top:382.90000000000003px;width:13.6px;height:13.6px;border:1.7px solid #858699;border-radius:2.5px;background:#fff"></div>
<div class="t" style="left:298.5px;top:379.90px;line-height:20px;font-size:11px;color:#4b4b4b;font-weight:400;letter-spacing:0px;white-space:nowrap">SHCB0283</div>
<div class="t" style="left:399.6px;top:379.90px;line-height:20px;font-size:11px;color:#4b4b4b;font-weight:400;letter-spacing:0px;white-space:nowrap">Nguyễn Ngọc Anh</div>
<div class="t" style="left:527.2px;top:379.90px;line-height:20px;font-size:11px;color:#4b4b4b;font-weight:400;letter-spacing:0px;white-space:nowrap">Lao động hợp đồng</div>
<div class="t" style="left:653.6px;top:379.90px;line-height:20px;font-size:11px;color:#4b4b4b;font-weight:400;letter-spacing:0px;white-space:nowrap">Nam</div>
<div class="t" style="left:907px;top:379.90px;line-height:20px;font-size:11px;color:#4b4b4b;font-weight:400;letter-spacing:0px;white-space:nowrap">Tạp vụ</div>
<div class="t" style="left:1422px;top:379.90px;line-height:20px;font-size:11px;color:#4b4b4b;font-weight:400;letter-spacing:0px;transform:scaleX(0.98);transform-origin:left center;white-space:nowrap;width:108px;overflow:hidden;-webkit-mask-image:linear-gradient(to right,#000 94%,transparent 100%);mask-image:linear-gradient(to right,#000 94%,transparent 100%)">Ngạch lương theo số tiền</div>
<div style="left:1544.8px;top:380.70000000000005px;width:18.8px;height:18.8px;background:#fff;border-radius:50%;box-shadow:0 1.5px 3px rgba(0,0,0,.2)"></div>
<svg style="position:absolute;left:1548.1px;top:383.50000000000006px;" width="12.7" height="12.7" viewBox="0 0 24 24"><path d="M3 17.25V21h3.75L17.81 9.94l-3.75-3.75L3 17.25zM20.71 7.04c.39-.39.39-1.02 0-1.41l-2.34-2.34c-.39-.39-1.02-.39-1.41 0l-1.83 1.83 3.75 3.75 1.83-1.83z" fill="#606368"/></svg>
<div style="left:1575.2px;top:380.70000000000005px;width:18.8px;height:18.8px;background:#fff;border-radius:50%;box-shadow:0 1.5px 3px rgba(0,0,0,.2)"></div>
<svg style="position:absolute;left:1580px;top:388.6px;" width="9" height="2.6" viewBox="0 0 9 2.6"><circle cx="1.4" cy="1.3" r="1.25" fill="#505050"/><circle cx="4.8" cy="1.3" r="1.25" fill="#505050"/><circle cx="8.2" cy="1.3" r="1.25" fill="#505050"/></svg>
<div style="left:227px;top:440.90000000000003px;width:1377px;height:1px;background:#e6e6e6"></div>
<div style="left:271px;top:417.50000000000006px;width:13.6px;height:13.6px;border:1.7px solid #858699;border-radius:2.5px;background:#fff"></div>
<div class="t" style="left:298.5px;top:414.50px;line-height:20px;font-size:11px;color:#4b4b4b;font-weight:400;letter-spacing:0px;white-space:nowrap">SHCB124</div>
<div class="t" style="left:399.6px;top:414.50px;line-height:20px;font-size:11px;color:#4b4b4b;font-weight:400;letter-spacing:0px;white-space:nowrap">Phan Việt Anh</div>
<div class="t" style="left:527.2px;top:414.50px;line-height:20px;font-size:11px;color:#4b4b4b;font-weight:400;letter-spacing:0px;white-space:nowrap">Công chức</div>
<div class="t" style="left:653.6px;top:414.50px;line-height:20px;font-size:11px;color:#4b4b4b;font-weight:400;letter-spacing:0px;white-space:nowrap">Nữ</div>
<div class="t" style="left:780px;top:414.50px;line-height:20px;font-size:11px;color:#4b4b4b;font-weight:400;letter-spacing:0px;white-space:nowrap">10/06/1990</div>
<div class="t" style="left:907px;top:414.50px;line-height:20px;font-size:11px;color:#4b4b4b;font-weight:400;letter-spacing:0px;white-space:nowrap">Phó hiệu trưởng</div>
<div class="t" style="left:1160px;top:414.50px;line-height:20px;font-size:11px;color:#4b4b4b;font-weight:400;letter-spacing:0px;white-space:nowrap">Ban Giám Hiệu</div>
<div class="t" style="left:1287px;top:414.50px;line-height:20px;font-size:11px;color:#4b4b4b;font-weight:400;letter-spacing:0px;white-space:nowrap">Phó hiệu trưởng</div>
<div class="t" style="left:1422px;top:414.50px;line-height:20px;font-size:11px;color:#4b4b4b;font-weight:400;letter-spacing:0px;transform:scaleX(0.98);transform-origin:left center;white-space:nowrap;width:108px;overflow:hidden;-webkit-mask-image:linear-gradient(to right,#000 94%,transparent 100%);mask-image:linear-gradient(to right,#000 94%,transparent 100%)">Ngạch lương theo hệ số</div>
<div style="left:1544.8px;top:415.30000000000007px;width:18.8px;height:18.8px;background:#fff;border-radius:50%;box-shadow:0 1.5px 3px rgba(0,0,0,.2)"></div>
<svg style="position:absolute;left:1548.1px;top:418.1000000000001px;" width="12.7" height="12.7" viewBox="0 0 24 24"><path d="M3 17.25V21h3.75L17.81 9.94l-3.75-3.75L3 17.25zM20.71 7.04c.39-.39.39-1.02 0-1.41l-2.34-2.34c-.39-.39-1.02-.39-1.41 0l-1.83 1.83 3.75 3.75 1.83-1.83z" fill="#606368"/></svg>
<div style="left:1575.2px;top:415.30000000000007px;width:18.8px;height:18.8px;background:#fff;border-radius:50%;box-shadow:0 1.5px 3px rgba(0,0,0,.2)"></div>
<svg style="position:absolute;left:1580px;top:423.20000000000005px;" width="9" height="2.6" viewBox="0 0 9 2.6"><circle cx="1.4" cy="1.3" r="1.25" fill="#505050"/><circle cx="4.8" cy="1.3" r="1.25" fill="#505050"/><circle cx="8.2" cy="1.3" r="1.25" fill="#505050"/></svg>
<div style="left:227px;top:475.50000000000006px;width:1377px;height:1px;background:#e6e6e6"></div>
<div style="left:271px;top:452.1000000000001px;width:13.6px;height:13.6px;border:1.7px solid #858699;border-radius:2.5px;background:#fff"></div>
<div class="t" style="left:298.5px;top:449.10px;line-height:20px;font-size:11px;color:#4b4b4b;font-weight:400;letter-spacing:0px;white-space:nowrap">SHCB342</div>
<div class="t" style="left:399.6px;top:449.10px;line-height:20px;font-size:11px;color:#4b4b4b;font-weight:400;letter-spacing:0px;white-space:nowrap">Lê Diệu Ánh</div>
<div class="t" style="left:527.2px;top:449.10px;line-height:20px;font-size:11px;color:#4b4b4b;font-weight:400;letter-spacing:0px;white-space:nowrap">Viên chức</div>
<div class="t" style="left:780px;top:449.10px;line-height:20px;font-size:11px;color:#4b4b4b;font-weight:400;letter-spacing:0px;white-space:nowrap">06/10/1989</div>
<div class="t" style="left:1033.5px;top:449.10px;line-height:20px;font-size:11px;color:#4b4b4b;font-weight:400;letter-spacing:0px;white-space:nowrap">Giáo viên</div>
<div class="t" style="left:1287px;top:449.10px;line-height:20px;font-size:11px;color:#4b4b4b;font-weight:400;letter-spacing:0px;white-space:nowrap">Giáo viên</div>
<div class="t" style="left:1422px;top:449.10px;line-height:20px;font-size:11px;color:#4b4b4b;font-weight:400;letter-spacing:0px;transform:scaleX(0.98);transform-origin:left center;white-space:nowrap;width:108px;overflow:hidden;-webkit-mask-image:linear-gradient(to right,#000 94%,transparent 100%);mask-image:linear-gradient(to right,#000 94%,transparent 100%)">Ngạch lương theo hệ số</div>
<div style="left:1544.8px;top:449.9000000000001px;width:18.8px;height:18.8px;background:#fff;border-radius:50%;box-shadow:0 1.5px 3px rgba(0,0,0,.2)"></div>
<svg style="position:absolute;left:1548.1px;top:452.7000000000001px;" width="12.7" height="12.7" viewBox="0 0 24 24"><path d="M3 17.25V21h3.75L17.81 9.94l-3.75-3.75L3 17.25zM20.71 7.04c.39-.39.39-1.02 0-1.41l-2.34-2.34c-.39-.39-1.02-.39-1.41 0l-1.83 1.83 3.75 3.75 1.83-1.83z" fill="#606368"/></svg>
<div style="left:1575.2px;top:449.9000000000001px;width:18.8px;height:18.8px;background:#fff;border-radius:50%;box-shadow:0 1.5px 3px rgba(0,0,0,.2)"></div>
<svg style="position:absolute;left:1580px;top:457.80000000000007px;" width="9" height="2.6" viewBox="0 0 9 2.6"><circle cx="1.4" cy="1.3" r="1.25" fill="#505050"/><circle cx="4.8" cy="1.3" r="1.25" fill="#505050"/><circle cx="8.2" cy="1.3" r="1.25" fill="#505050"/></svg>
<div style="left:227px;top:510.1000000000001px;width:1377px;height:1px;background:#e6e6e6"></div>
<div style="left:271px;top:486.7000000000001px;width:13.6px;height:13.6px;border:1.7px solid #858699;border-radius:2.5px;background:#fff"></div>
<div class="t" style="left:399.6px;top:483.70px;line-height:20px;font-size:11px;color:#4b4b4b;font-weight:400;letter-spacing:0px;white-space:nowrap">Đỗ Quang Bản</div>
<div class="t" style="left:527.2px;top:483.70px;line-height:20px;font-size:11px;color:#4b4b4b;font-weight:400;letter-spacing:0px;white-space:nowrap">Công chức</div>
<div class="t" style="left:653.6px;top:483.70px;line-height:20px;font-size:11px;color:#4b4b4b;font-weight:400;letter-spacing:0px;white-space:nowrap">Nam</div>
<div class="t" style="left:1422px;top:483.70px;line-height:20px;font-size:11px;color:#4b4b4b;font-weight:400;letter-spacing:0px;transform:scaleX(0.98);transform-origin:left center;white-space:nowrap;width:108px;overflow:hidden;-webkit-mask-image:linear-gradient(to right,#000 94%,transparent 100%);mask-image:linear-gradient(to right,#000 94%,transparent 100%)">Ngạch lương theo hệ số</div>
<div style="left:1544.8px;top:484.5000000000001px;width:18.8px;height:18.8px;background:#fff;border-radius:50%;box-shadow:0 1.5px 3px rgba(0,0,0,.2)"></div>
<svg style="position:absolute;left:1548.1px;top:487.3000000000001px;" width="12.7" height="12.7" viewBox="0 0 24 24"><path d="M3 17.25V21h3.75L17.81 9.94l-3.75-3.75L3 17.25zM20.71 7.04c.39-.39.39-1.02 0-1.41l-2.34-2.34c-.39-.39-1.02-.39-1.41 0l-1.83 1.83 3.75 3.75 1.83-1.83z" fill="#606368"/></svg>
<div style="left:1575.2px;top:484.5000000000001px;width:18.8px;height:18.8px;background:#fff;border-radius:50%;box-shadow:0 1.5px 3px rgba(0,0,0,.2)"></div>
<svg style="position:absolute;left:1580px;top:492.4000000000001px;" width="9" height="2.6" viewBox="0 0 9 2.6"><circle cx="1.4" cy="1.3" r="1.25" fill="#505050"/><circle cx="4.8" cy="1.3" r="1.25" fill="#505050"/><circle cx="8.2" cy="1.3" r="1.25" fill="#505050"/></svg>
<div style="left:227px;top:544.7px;width:1377px;height:1px;background:#e6e6e6"></div>
<div style="left:271px;top:521.3px;width:13.6px;height:13.6px;border:1.7px solid #858699;border-radius:2.5px;background:#fff"></div>
<div class="t" style="left:298.5px;top:518.30px;line-height:20px;font-size:11px;color:#4b4b4b;font-weight:400;letter-spacing:0px;white-space:nowrap">SHCB44</div>
<div class="t" style="left:399.6px;top:518.30px;line-height:20px;font-size:11px;color:#4b4b4b;font-weight:400;letter-spacing:0px;white-space:nowrap">Phạm Văn Biên</div>
<div class="t" style="left:527.2px;top:518.30px;line-height:20px;font-size:11px;color:#4b4b4b;font-weight:400;letter-spacing:0px;white-space:nowrap">Lao động hợp đồng</div>
<div class="t" style="left:653.6px;top:518.30px;line-height:20px;font-size:11px;color:#4b4b4b;font-weight:400;letter-spacing:0px;white-space:nowrap">Nam</div>
<div class="t" style="left:1033.5px;top:518.30px;line-height:20px;font-size:11px;color:#4b4b4b;font-weight:400;letter-spacing:0px;white-space:nowrap">Bảo vệ</div>
<div class="t" style="left:1287px;top:518.30px;line-height:20px;font-size:11px;color:#4b4b4b;font-weight:400;letter-spacing:0px;white-space:nowrap">Bảo vệ</div>
<div class="t" style="left:1422px;top:518.30px;line-height:20px;font-size:11px;color:#4b4b4b;font-weight:400;letter-spacing:0px;transform:scaleX(0.98);transform-origin:left center;white-space:nowrap;width:108px;overflow:hidden;-webkit-mask-image:linear-gradient(to right,#000 94%,transparent 100%);mask-image:linear-gradient(to right,#000 94%,transparent 100%)">Ngạch lương theo hệ số</div>
<div style="left:1544.8px;top:519.0999999999999px;width:18.8px;height:18.8px;background:#fff;border-radius:50%;box-shadow:0 1.5px 3px rgba(0,0,0,.2)"></div>
<svg style="position:absolute;left:1548.1px;top:521.9px;" width="12.7" height="12.7" viewBox="0 0 24 24"><path d="M3 17.25V21h3.75L17.81 9.94l-3.75-3.75L3 17.25zM20.71 7.04c.39-.39.39-1.02 0-1.41l-2.34-2.34c-.39-.39-1.02-.39-1.41 0l-1.83 1.83 3.75 3.75 1.83-1.83z" fill="#606368"/></svg>
<div style="left:1575.2px;top:519.0999999999999px;width:18.8px;height:18.8px;background:#fff;border-radius:50%;box-shadow:0 1.5px 3px rgba(0,0,0,.2)"></div>
<svg style="position:absolute;left:1580px;top:527.0px;" width="9" height="2.6" viewBox="0 0 9 2.6"><circle cx="1.4" cy="1.3" r="1.25" fill="#505050"/><circle cx="4.8" cy="1.3" r="1.25" fill="#505050"/><circle cx="8.2" cy="1.3" r="1.25" fill="#505050"/></svg>
<div style="left:227px;top:579.3000000000001px;width:1377px;height:1px;background:#e6e6e6"></div>
<div style="left:271px;top:555.9px;width:13.6px;height:13.6px;border:1.7px solid #858699;border-radius:2.5px;background:#fff"></div>
<div class="t" style="left:298.5px;top:552.90px;line-height:20px;font-size:11px;color:#4b4b4b;font-weight:400;letter-spacing:0px;white-space:nowrap">SHCB043</div>
<div class="t" style="left:399.6px;top:552.90px;line-height:20px;font-size:11px;color:#4b4b4b;font-weight:400;letter-spacing:0px;white-space:nowrap">Lê Thị Hải Bình</div>
<div class="t" style="left:527.2px;top:552.90px;line-height:20px;font-size:11px;color:#4b4b4b;font-weight:400;letter-spacing:0px;white-space:nowrap">Viên chức</div>
<div class="t" style="left:653.6px;top:552.90px;line-height:20px;font-size:11px;color:#4b4b4b;font-weight:400;letter-spacing:0px;white-space:nowrap">Nữ</div>
<div class="t" style="left:780px;top:552.90px;line-height:20px;font-size:11px;color:#4b4b4b;font-weight:400;letter-spacing:0px;white-space:nowrap">20/02/1975</div>
<div class="t" style="left:1033.5px;top:552.90px;line-height:20px;font-size:11px;color:#4b4b4b;font-weight:400;letter-spacing:0px;white-space:nowrap">Giáo viên</div>
<div class="t" style="left:1160px;top:552.90px;line-height:20px;font-size:11px;color:#4b4b4b;font-weight:400;letter-spacing:0px;white-space:nowrap">Tổ Xã hội</div>
<div class="t" style="left:1287px;top:552.90px;line-height:20px;font-size:11px;color:#4b4b4b;font-weight:400;letter-spacing:0px;white-space:nowrap">Giáo viên</div>
<div class="t" style="left:1422px;top:552.90px;line-height:20px;font-size:11px;color:#4b4b4b;font-weight:400;letter-spacing:0px;transform:scaleX(0.98);transform-origin:left center;white-space:nowrap;width:108px;overflow:hidden;-webkit-mask-image:linear-gradient(to right,#000 94%,transparent 100%);mask-image:linear-gradient(to right,#000 94%,transparent 100%)">Ngạch lương theo hệ số</div>
<div style="left:1544.8px;top:553.6999999999999px;width:18.8px;height:18.8px;background:#fff;border-radius:50%;box-shadow:0 1.5px 3px rgba(0,0,0,.2)"></div>
<svg style="position:absolute;left:1548.1px;top:556.5px;" width="12.7" height="12.7" viewBox="0 0 24 24"><path d="M3 17.25V21h3.75L17.81 9.94l-3.75-3.75L3 17.25zM20.71 7.04c.39-.39.39-1.02 0-1.41l-2.34-2.34c-.39-.39-1.02-.39-1.41 0l-1.83 1.83 3.75 3.75 1.83-1.83z" fill="#606368"/></svg>
<div style="left:1575.2px;top:553.6999999999999px;width:18.8px;height:18.8px;background:#fff;border-radius:50%;box-shadow:0 1.5px 3px rgba(0,0,0,.2)"></div>
<svg style="position:absolute;left:1580px;top:561.6px;" width="9" height="2.6" viewBox="0 0 9 2.6"><circle cx="1.4" cy="1.3" r="1.25" fill="#505050"/><circle cx="4.8" cy="1.3" r="1.25" fill="#505050"/><circle cx="8.2" cy="1.3" r="1.25" fill="#505050"/></svg>
</div>
<div style="left:523px;top:98px;width:1px;height:463px;background:#e3e3e3"></div>
<div style="left:1603.7px;top:164px;width:8.3px;height:397px;background:#f4f4f4"></div>
<div style="left:1603.7px;top:164px;width:8.3px;height:227px;background:#c2c2c2"></div>
<div style="left:227px;top:561px;width:1376.7px;height:8.5px;background:#f4f4f4"></div>
<div style="left:523.3px;top:561.3px;width:628.7px;height:7.6px;background:#c2c2c2"></div>
<div style="left:227px;top:569.5px;width:1385px;height:23.7px;background:#fff"></div>
<svg style="position:absolute;left:236.3px;top:576px;" width="7" height="10.5" viewBox="0 0 7 10.5"><rect x="0" y="0" width="1.6" height="10.5" fill="#666"/><path d="M7 0.5 V10 L2 5.25 Z" fill="#666"/></svg>
<svg style="position:absolute;left:258px;top:576.5px;" width="9" height="9.5" viewBox="0 0 9 9.5"><path d="M4.5 0 V9.5 L0 4.75 Z M9 0 V9.5 L4.5 4.75 Z" fill="#666"/></svg>
<div class="t" style="left:274.9px;top:571.30px;line-height:20px;font-size:11px;color:#606060;font-weight:400;letter-spacing:0px;">Trang</div>
<div style="left:309.3px;top:570.5px;width:33.2px;height:21.5px;border:1px solid #cdd0dc;border-radius:3px;background:#fff"></div>
<div class="t" style="left:310.9px;width:30px;top:572.80px;line-height:20px;font-size:10.5px;color:#333;font-weight:400;letter-spacing:0px;text-align:center;">1</div>
<div class="t" style="left:347.9px;top:571.30px;line-height:20px;font-size:11px;color:#606060;font-weight:400;letter-spacing:0px;">trên 7</div>
<svg style="position:absolute;left:389.8px;top:576.5px;" width="9" height="9.5" viewBox="0 0 9 9.5"><path d="M0 0 V9.5 L4.5 4.75 Z M4.5 0 V9.5 L9 4.75 Z" fill="#666"/></svg>
<svg style="position:absolute;left:413.5px;top:576px;" width="7" height="10.5" viewBox="0 0 7 10.5"><path d="M0 0.5 V10 L5 5.25 Z" fill="#666"/><rect x="5.4" y="0" width="1.6" height="10.5" fill="#666"/></svg>
<div class="t" style="left:434.3px;top:572.50px;line-height:20px;font-size:11.5px;color:#444;font-weight:400;letter-spacing:0px;transform:scaleX(0.925);transform-origin:left center;">Số dòng</div>
<div style="left:489.6px;top:570.8px;width:48.7px;height:21.8px;border:1px solid #e6e6e6;border-radius:3px;background:#fff"></div>
<div class="t" style="left:495px;top:572.80px;line-height:20px;font-size:11px;color:#333;font-weight:400;letter-spacing:0px;">20</div>
<svg style="position:absolute;left:524px;top:580px;" width="9" height="5" viewBox="0 0 9 5"><path d="M0 0 H9 L4.5 5 Z" fill="#666"/></svg>
<div class="t" style="right:20.5px;top:571.30px;line-height:20px;font-size:11px;color:#555;font-weight:400;letter-spacing:0px;text-align:right;">Hiển thị 1 - 20 trên 127 kết quả</div>
<div style="left:227px;top:593.2px;width:1385px;height:4.1px;background:#e2e2e2"></div>
<div style="left:904px;top:592.2px;width:32px;height:5px;background:#ececec;border-radius:0 0 6px 6px"></div>
<svg style="position:absolute;left:916.5px;top:593.5px;" width="7" height="4" viewBox="0 0 7 4"><path d="M0 0 H7 L3.5 3.5 Z" fill="#333"/></svg>
<div style="left:227px;top:597.3px;width:1385px;height:212px;background:#fff"></div>
<div class="t" style="left:240.3px;top:600.20px;line-height:20px;font-size:11.5px;color:#9099b2;font-weight:400;letter-spacing:0px;transform:scaleX(0.955);transform-origin:left center;">THÔNG TIN CHUNG</div>
<div class="t" style="left:370px;top:600.20px;line-height:20px;font-size:11.5px;color:#9099b2;font-weight:400;letter-spacing:0px;transform:scaleX(0.955);transform-origin:left center;">QUÁ TRÌNH LƯƠNG</div>
<div class="t" style="left:497.9px;top:600.20px;line-height:20px;font-size:11.5px;color:#22305a;font-weight:400;letter-spacing:0px;transform:scaleX(0.955);transform-origin:left center;">PHỤ CẤP</div>
<div class="t" style="left:572.6px;top:600.20px;line-height:20px;font-size:11.5px;color:#9099b2;font-weight:400;letter-spacing:0px;transform:scaleX(0.955);transform-origin:left center;">TÌNH TRẠNG LÀM VIỆC</div>
<div class="t" style="left:722px;top:600.20px;line-height:20px;font-size:11.5px;color:#9099b2;font-weight:400;letter-spacing:0px;transform:scaleX(0.955);transform-origin:left center;">THEO DÕI NGHỈ</div>
<div class="t" style="left:830.7px;top:600.20px;line-height:20px;font-size:11.5px;color:#9099b2;font-weight:400;letter-spacing:0px;transform:scaleX(0.955);transform-origin:left center;">THÔNG TIN BẢO HIỂM</div>
<div class="t" style="left:975.2px;top:600.20px;line-height:20px;font-size:11.5px;color:#9099b2;font-weight:400;letter-spacing:0px;transform:scaleX(0.955);transform-origin:left center;">NGƯỜI PHỤ THUỘC</div>
<div style="left:227px;top:619.5px;width:865px;height:3px;background:#e4e4e4"></div>
<div style="left:484.8px;top:619.5px;width:75px;height:3px;background:#2f8cf8"></div>
<div class="t" style="left:230.5px;top:634.30px;line-height:20px;font-size:11px;color:#333333;font-weight:700;letter-spacing:0px;transform:scaleX(0.92);transform-origin:left center;">Ngày hưởng</div>
<div class="t" style="left:315.2px;top:634.30px;line-height:20px;font-size:11px;color:#333333;font-weight:700;letter-spacing:0px;transform:scaleX(0.92);transform-origin:left center;">Đến ngày</div>
<div class="t" style="left:399.4px;top:634.30px;line-height:20px;font-size:11px;color:#333333;font-weight:700;letter-spacing:0px;transform:scaleX(0.92);transform-origin:left center;">Loại phụ cấp</div>
<div class="t" style="right:836px;top:634.30px;line-height:20px;font-size:11px;color:#333333;font-weight:700;letter-spacing:0px;text-align:right;transform:scaleX(0.92);transform-origin:right center;">Hệ số</div>
<div class="t" style="right:709.8px;top:634.30px;line-height:20px;font-size:11px;color:#333333;font-weight:700;letter-spacing:0px;text-align:right;transform:scaleX(0.92);transform-origin:right center;">Tỷ lệ</div>
<div class="t" style="left:1008.4px;top:634.30px;line-height:20px;font-size:11px;color:#333333;font-weight:700;letter-spacing:0px;transform:scaleX(0.92);transform-origin:left center;">Số tiền</div>
<div class="t" style="right:457px;top:634.30px;line-height:20px;font-size:11px;color:#333333;font-weight:700;letter-spacing:0px;text-align:right;transform:scaleX(0.92);transform-origin:right center;">% Hưởng</div>
<div class="t" style="left:1176.5px;top:634.30px;line-height:20px;font-size:11px;color:#333333;font-weight:700;letter-spacing:0px;transform:scaleX(0.92);transform-origin:left center;">Chương</div>
<div class="t" style="left:1303.2px;top:634.30px;line-height:20px;font-size:11px;color:#333333;font-weight:700;letter-spacing:0px;transform:scaleX(0.92);transform-origin:left center;">Khoản</div>
<div class="t" style="left:1430px;top:634.30px;line-height:20px;font-size:11px;color:#333333;font-weight:700;letter-spacing:0px;transform:scaleX(0.92);transform-origin:left center;">Tiểu mục</div>
<div style="left:0;top:0;width:1626px;height:825px;clip-path:inset(662px 22.799999999999955px 15.200000000000045px 227px)">
<div style="left:227px;top:662.1px;width:1377px;height:33.97px;background:#e6f3fd"></div>
<div style="left:227px;top:695.6700000000001px;width:1377px;height:1px;background:#e9e9e9"></div>
<svg style="position:absolute;left:1558.7px;top:670.885px;" width="18.3" height="18.3" viewBox="0 0 24 24"><path d="M3 17.25V21h3.75L17.81 9.94l-3.75-3.75L3 17.25zM20.71 7.04c.39-.39.39-1.02 0-1.41l-2.34-2.34c-.39-.39-1.02-.39-1.41 0l-1.83 1.83 3.75 3.75 1.83-1.83z" fill="#676b73"/></svg>
<div class="t" style="left:230.5px;top:670.09px;line-height:20px;font-size:11px;color:#4b4b4b;font-weight:400;letter-spacing:0px;">01/02/2022</div>
<div class="t" style="left:399.4px;top:670.09px;line-height:20px;font-size:11px;color:#4b4b4b;font-weight:400;letter-spacing:0px;">Phụ cấp thâm niên nghề</div>
<div class="t" style="right:709.8px;top:670.09px;line-height:20px;font-size:11px;color:#4b4b4b;font-weight:400;letter-spacing:0px;text-align:right;">13,00%</div>
<div class="t" style="right:457px;top:670.09px;line-height:20px;font-size:11px;color:#4b4b4b;font-weight:400;letter-spacing:0px;text-align:right;">100,00%</div>
<div class="t" style="left:1176.5px;top:670.09px;line-height:20px;font-size:11px;color:#4b4b4b;font-weight:400;letter-spacing:0px;">622</div>
<div class="t" style="left:1303.2px;top:670.09px;line-height:20px;font-size:11px;color:#4b4b4b;font-weight:400;letter-spacing:0px;">073</div>
<div class="t" style="left:1430px;top:670.09px;line-height:20px;font-size:11px;color:#4b4b4b;font-weight:400;letter-spacing:0px;">6115</div>
<div style="left:227px;top:729.6400000000001px;width:1377px;height:1px;background:#e9e9e9"></div>
<svg style="position:absolute;left:1558.7px;top:704.855px;" width="18.3" height="18.3" viewBox="0 0 24 24"><path d="M3 17.25V21h3.75L17.81 9.94l-3.75-3.75L3 17.25zM20.71 7.04c.39-.39.39-1.02 0-1.41l-2.34-2.34c-.39-.39-1.02-.39-1.41 0l-1.83 1.83 3.75 3.75 1.83-1.83z" fill="#676b73"/></svg>
<div class="t" style="left:230.5px;top:704.06px;line-height:20px;font-size:11px;color:#4b4b4b;font-weight:400;letter-spacing:0px;">01/02/2021</div>
<div class="t" style="left:399.4px;top:704.06px;line-height:20px;font-size:11px;color:#4b4b4b;font-weight:400;letter-spacing:0px;">Phụ cấp thâm niên nghề</div>
<div class="t" style="right:709.8px;top:704.06px;line-height:20px;font-size:11px;color:#4b4b4b;font-weight:400;letter-spacing:0px;text-align:right;">12,00%</div>
<div class="t" style="right:457px;top:704.06px;line-height:20px;font-size:11px;color:#4b4b4b;font-weight:400;letter-spacing:0px;text-align:right;">100,00%</div>
<div class="t" style="left:1176.5px;top:704.06px;line-height:20px;font-size:11px;color:#4b4b4b;font-weight:400;letter-spacing:0px;">622</div>
<div class="t" style="left:1303.2px;top:704.06px;line-height:20px;font-size:11px;color:#4b4b4b;font-weight:400;letter-spacing:0px;">073</div>
<div class="t" style="left:1430px;top:704.06px;line-height:20px;font-size:11px;color:#4b4b4b;font-weight:400;letter-spacing:0px;">6115</div>
<div style="left:227px;top:763.61px;width:1377px;height:1px;background:#e9e9e9"></div>
<svg style="position:absolute;left:1558.7px;top:738.8249999999999px;" width="18.3" height="18.3" viewBox="0 0 24 24"><path d="M3 17.25V21h3.75L17.81 9.94l-3.75-3.75L3 17.25zM20.71 7.04c.39-.39.39-1.02 0-1.41l-2.34-2.34c-.39-.39-1.02-.39-1.41 0l-1.83 1.83 3.75 3.75 1.83-1.83z" fill="#676b73"/></svg>
<div class="t" style="left:230.5px;top:738.02px;line-height:20px;font-size:11px;color:#4b4b4b;font-weight:400;letter-spacing:0px;">09/09/2020</div>
<div class="t" style="left:399.4px;top:738.02px;line-height:20px;font-size:11px;color:#4b4b4b;font-weight:400;letter-spacing:0px;">Phụ cấp ưu đãi nghề</div>
<div class="t" style="right:709.8px;top:738.02px;line-height:20px;font-size:11px;color:#4b4b4b;font-weight:400;letter-spacing:0px;text-align:right;">15,00%</div>
<div class="t" style="right:457px;top:738.02px;line-height:20px;font-size:11px;color:#4b4b4b;font-weight:400;letter-spacing:0px;text-align:right;">100,00%</div>
<div class="t" style="left:1176.5px;top:738.02px;line-height:20px;font-size:11px;color:#4b4b4b;font-weight:400;letter-spacing:0px;">622</div>
<div class="t" style="left:1303.2px;top:738.02px;line-height:20px;font-size:11px;color:#4b4b4b;font-weight:400;letter-spacing:0px;">073</div>
<div class="t" style="left:1430px;top:738.02px;line-height:20px;font-size:11px;color:#4b4b4b;font-weight:400;letter-spacing:0px;">6112</div>
<div style="left:227px;top:797.58px;width:1377px;height:1px;background:#e9e9e9"></div>
<svg style="position:absolute;left:1558.7px;top:772.795px;" width="18.3" height="18.3" viewBox="0 0 24 24"><path d="M3 17.25V21h3.75L17.81 9.94l-3.75-3.75L3 17.25zM20.71 7.04c.39-.39.39-1.02 0-1.41l-2.34-2.34c-.39-.39-1.02-.39-1.41 0l-1.83 1.83 3.75 3.75 1.83-1.83z" fill="#676b73"/></svg>
<div class="t" style="left:230.5px;top:772.00px;line-height:20px;font-size:11px;color:#4b4b4b;font-weight:400;letter-spacing:0px;">01/02/2020</div>
<div class="t" style="left:399.4px;top:772.00px;line-height:20px;font-size:11px;color:#4b4b4b;font-weight:400;letter-spacing:0px;">Phụ cấp thâm niên nghề</div>
<div class="t" style="right:709.8px;top:772.00px;line-height:20px;font-size:11px;color:#4b4b4b;font-weight:400;letter-spacing:0px;text-align:right;">11,00%</div>
<div class="t" style="right:457px;top:772.00px;line-height:20px;font-size:11px;color:#4b4b4b;font-weight:400;letter-spacing:0px;text-align:right;">100,00%</div>
<div class="t" style="left:1176.5px;top:772.00px;line-height:20px;font-size:11px;color:#4b4b4b;font-weight:400;letter-spacing:0px;">622</div>
<div class="t" style="left:1303.2px;top:772.00px;line-height:20px;font-size:11px;color:#4b4b4b;font-weight:400;letter-spacing:0px;">073</div>
<div class="t" style="left:1430px;top:772.00px;line-height:20px;font-size:11px;color:#4b4b4b;font-weight:400;letter-spacing:0px;">6115</div>
<div style="left:227px;top:831.5500000000001px;width:1377px;height:1px;background:#e9e9e9"></div>
<svg style="position:absolute;left:1558.7px;top:806.765px;" width="18.3" height="18.3" viewBox="0 0 24 24"><path d="M3 17.25V21h3.75L17.81 9.94l-3.75-3.75L3 17.25zM20.71 7.04c.39-.39.39-1.02 0-1.41l-2.34-2.34c-.39-.39-1.02-.39-1.41 0l-1.83 1.83 3.75 3.75 1.83-1.83z" fill="#676b73"/></svg>
</div>
<div style="left:1603.2px;top:662.1px;width:9px;height:147.7px;background:#f4f4f4"></div>
<div style="left:1603.2px;top:662.1px;width:9px;height:70.4px;background:#c2c2c2"></div>
<div style="left:1545.2px;top:662.7px;width:42.8px;height:135px;border:2.5px solid #f83a3e"></div>
<div style="left:1613.5px;top:380.4px;width:10.5px;height:91.4px;background:#3a8fee;border-radius:6px 0 0 6px"></div>
<svg style="position:absolute;left:1616.5px;top:421.5px;" width="6" height="9" viewBox="0 0 6 9"><path d="M4.8 0.8 L1.2 4.5 L4.8 8.2" fill="none" stroke="#fff" stroke-width="1.3"/></svg>
<svg style="position:absolute;left:1345px;top:521px;" width="205" height="150" viewBox="0 0 205 150"><path d="M11 3 H185 Q193.5 3 193.5 11.5 L190.5 99 Q190.5 106.6 182 106.6 H168.6 L200 147.5 L132.3 106.6 H14.3 Q6.3 106.6 6.3 99 L3.2 11.5 Q3.2 3 11 3 Z" fill="#0daa8b"/></svg>
<div class="t" style="left:1347.8px;width:190px;top:539.45px;line-height:18.5px;font-size:15.6px;color:#fff;font-weight:400;letter-spacing:0px;text-align:center;">Nhấn vào biểu</div>
<div class="t" style="left:1347.8px;width:190px;top:558.00px;line-height:18.5px;font-size:15.6px;color:#fff;font-weight:400;letter-spacing:0px;text-align:center;">tượng tại dòng</div>
<div class="t" style="left:1347.8px;width:190px;top:576.55px;line-height:18.5px;font-size:15.6px;color:#fff;font-weight:400;letter-spacing:0px;text-align:center;">tương ứng để sửa</div>
<div class="t" style="left:1347.8px;width:190px;top:595.10px;line-height:18.5px;font-size:15.6px;color:#fff;font-weight:400;letter-spacing:0px;text-align:center;">thông tin</div>
</body></html>
